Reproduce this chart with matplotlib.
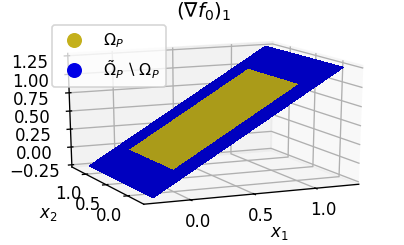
import numpy as np
import matplotlib.pyplot as plt
from matplotlib.colors import to_rgba
from matplotlib.lines import Line2D

# domain of the extended patch and the inner patch
x_ext = [-0.25, 1.25]
x_in = [0.0, 1.0]
n_pts = 7
z_ticks = [-0.25, 0.0, 0.25, 0.5, 0.75, 1.0, 1.25]
xy_ticks = [0.0, 0.5, 1.0]

col_in = '#aa9b19'
col_out = '#0000bf'
leg_in = '#c4b01c'
leg_out = '#0000e6'


def main():
    fig = plt.figure(figsize=(4.04 / 1.2, 2.45 / 1.2), dpi=120)
    ax = fig.add_axes([0.097, 0.091, 0.833, 0.83], projection='3d')
    # old-style: let the 3d box stretch with the axes
    ax.apply_aspect = lambda position=None: None
    ax.set_box_aspect((1.15, 1, 1), zoom=1.05)

    x = np.linspace(x_ext[0], x_ext[1], n_pts)
    X1, X2 = np.meshgrid(x, x)
    Z = X1.copy()
    # patch colour from its centre point
    cx = 0.5 * (x[:-1] + x[1:])
    C1, C2 = np.meshgrid(cx, cx)
    inside = (C1 > x_in[0]) & (C1 < x_in[1]) & (C2 > x_in[0]) & (C2 < x_in[1])
    fc = np.zeros((n_pts, n_pts, 4))
    fc[:-1, :-1][inside] = to_rgba(col_in)
    fc[:-1, :-1][~inside] = to_rgba(col_out)
    ax.plot_surface(X1, X2, Z, facecolors=fc, rstride=1, cstride=1,
                    linewidth=0, antialiased=False, shade=False)

    ax.set_xticks(xy_ticks)
    ax.set_yticks(xy_ticks)
    ax.set_zticks(z_ticks)
    ax.tick_params(axis='x', pad=-1)
    ax.tick_params(axis='y', pad=-1)
    ax.view_init(elev=16, azim=-114)
    # axis labels kept upright, as in the original
    fig.text(0.691, 0.049, '$x_1$', ha='center', va='center')
    fig.text(0.119, 0.127, '$x_2$', ha='center', va='center')
    fig.text(0.503, 0.951, r'$(\nabla f_0)_1$', ha='center', va='center', fontsize=12)

    handles = [Line2D([], [], ls='', marker='o', ms=8, color=leg_in),
               Line2D([], [], ls='', marker='o', ms=8, color=leg_out)]
    labels = [r'$\Omega_P$', r'$\tilde{\Omega}_P\setminus\Omega_P$']
    fig.legend(handles, labels, loc='upper left', bbox_to_anchor=(0.129, 0.898),
               borderaxespad=0, fontsize=9.5)

    plt.savefig('out.png', dpi=120)


if __name__ == '__main__':
    main()
